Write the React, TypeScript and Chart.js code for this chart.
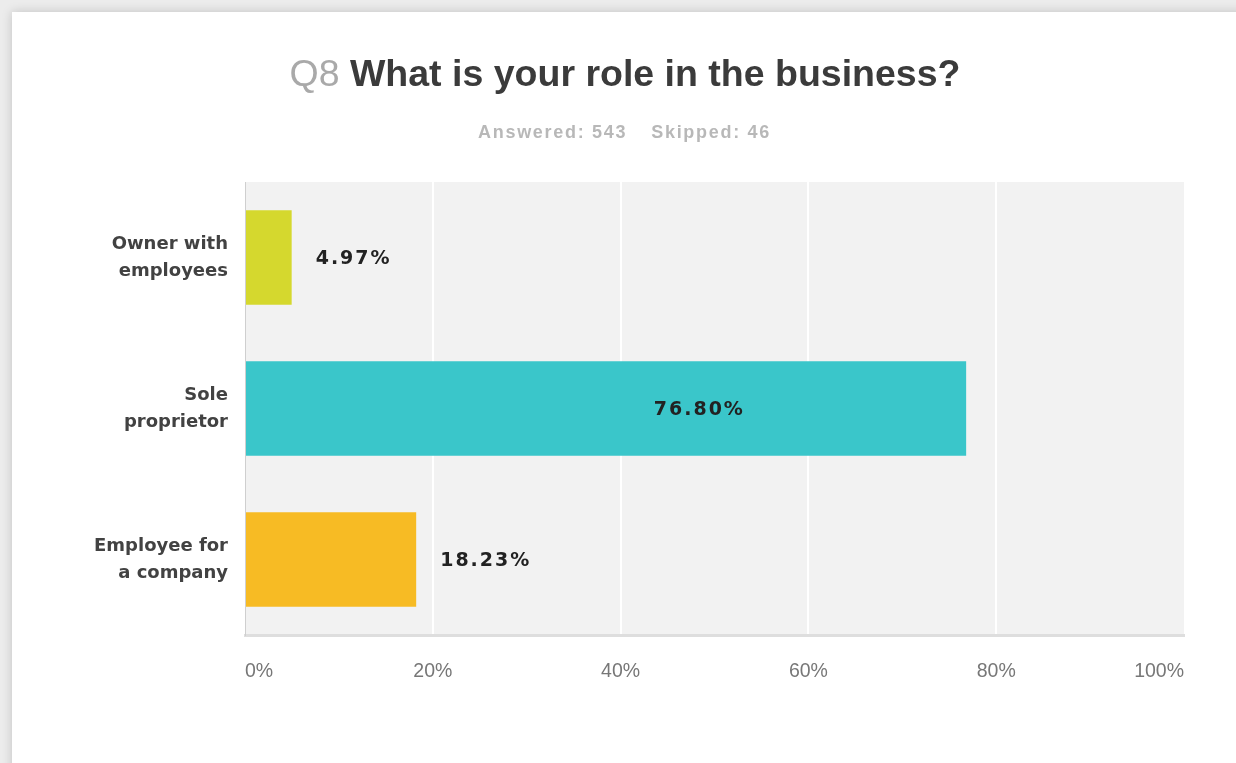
import React, { useEffect, useRef } from "react";
import { Chart, registerables } from "chart.js";

Chart.register(...registerables);

const categories: string[][] = [["Owner with", "employees"], ["Sole", "proprietor"], ["Employee for", "a company"]];
const percentages: number[] = [4.97, 76.8, 18.23];
const barColors: string[] = ["#D5D82E", "#3AC6CA", "#F7BB24"];
const xTicks: number[] = [0, 20, 40, 60, 80, 100];
const titlePrefix = "Q8";
const titleText = "What is your role in the business?";
const answeredText = "Answered: 543";
const skippedText = "Skipped: 46";

const W = 1236;
const H = 763;

const bgPlugin = {
  id: "plotBg",
  beforeDraw(chart: any) {
    const { ctx, chartArea } = chart;
    ctx.save();
    ctx.fillStyle = "#f2f2f2";
    ctx.fillRect(chartArea.left, chartArea.top, chartArea.right - chartArea.left, chartArea.bottom - chartArea.top);
    ctx.restore();
  },
};

const titlePlugin = {
  id: "titleText",
  afterDraw(chart: any) {
    const ctx = chart.ctx as CanvasRenderingContext2D;
    ctx.save();
    const cx = 625;
    ctx.textBaseline = "alphabetic";
    ctx.font = "37.5px 'Liberation Sans', Arial, sans-serif";
    const w1 = ctx.measureText(titlePrefix + " ").width;
    ctx.font = "bold 37.5px 'Liberation Sans', Arial, sans-serif";
    const w2 = ctx.measureText(titleText).width;
    const start = cx - (w1 + w2) / 2;
    ctx.textAlign = "left";
    ctx.font = "37.5px 'Liberation Sans', Arial, sans-serif";
    ctx.fillStyle = "#a9a9a9";
    ctx.fillText(titlePrefix, start, 86);
    ctx.font = "bold 37.5px 'Liberation Sans', Arial, sans-serif";
    ctx.fillStyle = "#3b3b3b";
    ctx.fillText(titleText, start + w1, 86);

    // subtitle
    (ctx as any).letterSpacing = "1.7px";
    ctx.font = "bold 18px 'Liberation Sans', Arial, sans-serif";
    ctx.fillStyle = "#b8b8b8";
    const a = ctx.measureText(answeredText).width;
    const s = ctx.measureText(skippedText).width;
    const gap = 24;
    const sStart = 624.5 - (a + gap + s) / 2;
    ctx.fillText(answeredText, sStart, 138);
    ctx.fillText(skippedText, sStart + a + gap, 138);
    ctx.restore();
  },
};

const valueLabelPlugin = {
  id: "valueLabels",
  afterDatasetsDraw(chart: any) {
    const ctx = chart.ctx as CanvasRenderingContext2D;
    const meta = chart.getDatasetMeta(0);
    const xScale = chart.scales.x;
    ctx.save();
    (ctx as any).letterSpacing = "2px";
    ctx.font = "bold 19px 'DejaVu Sans', sans-serif";
    ctx.fillStyle = "#222222";
    ctx.textBaseline = "middle";
    meta.data.forEach((bar: any, i: number) => {
      const v = percentages[i];
      const txt = v.toFixed(2) + "%";
      if (v > 50) {
        ctx.textAlign = "center";
        ctx.fillText(txt, xScale.getPixelForValue(v * 0.63), bar.y + 2);
      } else {
        ctx.textAlign = "left";
        ctx.fillText(txt, bar.x + 24, bar.y + 2);
      }
    });
    ctx.restore();
  },
};

export default function App() {
  const ref = useRef<HTMLCanvasElement | null>(null);

  useEffect(() => {
    if (!ref.current) return;
    const chart = new Chart(ref.current, {
      type: "bar",
      data: {
        labels: categories,
        datasets: [
          {
            data: percentages,
            backgroundColor: barColors,
            borderWidth: 0,
            categoryPercentage: 1,
            barPercentage: 0.625,
          },
        ],
      },
      options: {
        indexAxis: "y",
        responsive: false,
        animation: false,
        layout: { padding: { top: 182, right: 52, left: 0, bottom: 0 } },
        plugins: {
          legend: { display: false },
          tooltip: { enabled: false },
          title: { display: false },
        },
        scales: {
          x: {
            min: 0,
            max: 100,
            afterBuildTicks: (scale: any) => {
              scale.ticks = xTicks.map((v) => ({ value: v }));
            },
            afterFit: (scale: any) => {
              scale.height = H - 635;
            },
            ticks: {
              align: "inner",
              padding: 25,
              color: "#777777",
              font: { family: "'Liberation Sans', Arial, sans-serif", size: 19.5 },
              callback: (v: any) => v + "%",
            },
            grid: {
              color: (c: any) => (c.tick && (c.tick.value === 0 || c.tick.value === 100) ? "rgba(0,0,0,0)" : "#ffffff"),
              lineWidth: 2,
              drawTicks: false,
            },
            border: { display: true, color: "#dedede", width: 3 },
          },
          y: {
            afterFit: (scale: any) => {
              scale.width = 245;
            },
            ticks: {
              padding: 17,
              color: "#424242",
              font: { family: "'DejaVu Sans', sans-serif", size: 18, weight: "bold", lineHeight: 1.5 },
            },
            grid: { display: false, drawTicks: false },
            border: { display: true, color: "#cfcfcf", width: 1 },
          },
        },
      },
      plugins: [bgPlugin, valueLabelPlugin, titlePlugin],
    } as any);
    return () => chart.destroy();
  }, []);

  return (
    <div style={{ position: "fixed", left: 0, top: 0, width: W, height: H, background: "#ececec", overflow: "hidden" }}>
      <div
        style={{
          position: "absolute",
          left: 12,
          top: 12,
          width: W + 40,
          height: H + 40,
          background: "#ffffff",
          boxShadow: "0 0 10px rgba(0,0,0,0.18)",
        }}
      />
      <canvas ref={ref} width={W} height={H} style={{ position: "absolute", left: 0, top: 0, width: W, height: H }} />
    </div>
  );
}
